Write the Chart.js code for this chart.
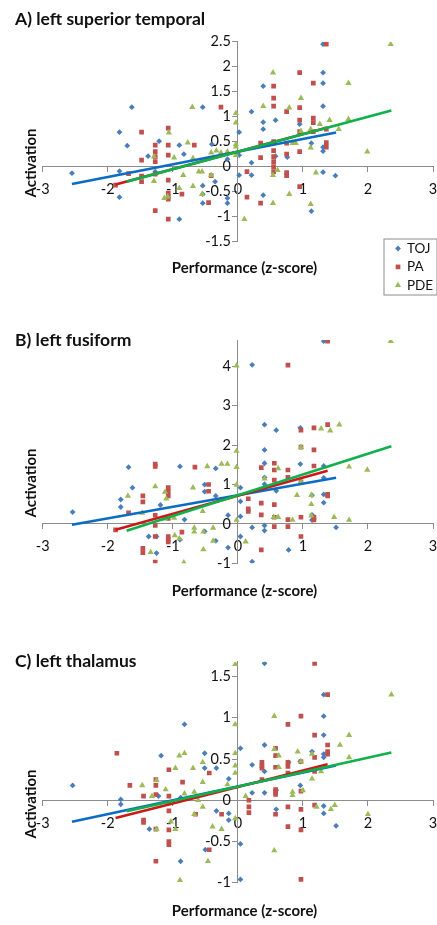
<!DOCTYPE html>
<html>
<head>
<meta charset="utf-8">
<script src="https://cdn.jsdelivr.net/npm/chart.js@4.4.1/dist/chart.umd.min.js"></script>
<style>
html,body{margin:0;padding:0;background:#fff;width:437px;height:925px;overflow:hidden;}
canvas{position:absolute;left:0;}
</style>
</head>
<body>
<canvas id="cA" width="437" height="305" style="top:0px"></canvas>
<canvas id="cB" width="437" height="305" style="top:305px"></canvas>
<canvas id="cC" width="437" height="315" style="top:610px"></canvas>
<script>
// ---------- text ----------
const seriesNames = ['TOJ', 'PA', 'PDE'];
const panelTitles = ['A) left superior temporal', 'B) left fusiform', 'C) left thalamus'];
const xAxisTitle = 'Performance (z-score)';
const yAxisTitle = 'Activation';

// ---------- axes ----------
const xMin = -3, xMax = 3, xStep = 1;
const yMins = [-1.5, -1, -1];
const yMaxs = [2.5, 4.67, 1.68];
const ySteps = [0.5, 1, 0.5];

// ---------- Panel A: left superior temporal ----------
const aTojX = [-2.55,-1.82,-1.82,-1.82,-1.70,-1.63,-1.38,-1.27,-1.21,-0.90,-0.83,-0.90,-0.54,-0.54,-0.54,-0.54,-0.40,-0.35,-0.16,-0.16,-0.16,0.02,0.02,0.02,0.21,0.21,0.21,0.39,0.39,0.39,0.39,0.58,0.58,0.76,0.95,1.13,1.13,1.31,1.31,1.31,1.31,1.31,1.31,1.31,1.50];
const aTojY = [-0.13,0.69,-0.09,-0.61,0.42,1.19,0.21,-0.10,0.51,0.43,0.25,-1.05,1.19,-0.38,-0.55,-0.73,0.45,-0.30,0.15,-0.63,-0.73,0.69,0.23,-0.17,1.10,0.08,-0.17,1.61,0.89,0.75,-0.57,0.93,0.21,0.19,0.85,0.47,-0.89,2.45,1.88,1.67,1.21,0.39,0.31,-0.11,-0.18];
const aPaX = [-1.88,-1.68,-1.48,-1.48,-1.48,-1.48,-1.27,-1.27,-1.27,-1.27,-1.27,-1.27,-1.07,-1.07,-1.07,-1.07,-1.07,-1.07,-1.07,-1.07,-0.86,-0.67,-0.45,-0.41,-0.26,0.14,0.14,0.35,0.35,0.35,0.55,0.55,0.55,0.55,0.55,0.55,0.55,0.55,0.55,0.75,0.75,0.75,0.75,0.75,0.95,0.95,0.95,0.95,0.95,0.95,1.16,1.16,1.16,1.16,1.36,1.36,1.36,1.36];
const aPaY = [-0.37,-0.14,0.69,0.13,-0.19,-0.30,0.43,0.30,0.20,0.10,-0.15,-0.88,0.77,0.43,0.23,-0.27,-0.53,-0.60,-0.65,-1.05,-0.55,0.43,-0.72,-0.18,1.19,-0.10,-0.61,0.47,0.18,-0.73,1.61,1.37,1.21,0.50,0.32,0.20,0.10,0.00,-0.10,1.10,0.47,0.25,-0.12,-0.18,1.88,1.18,0.93,0.70,0.30,-0.40,1.67,0.97,0.88,0.70,2.45,0.75,0.48,0.39];
const aPdeX = [-1.29,-1.29,-1.13,-1.08,-1.06,-0.98,-0.90,-0.84,-0.77,-0.70,-0.69,-0.69,-0.60,-0.55,-0.55,-0.41,-0.41,-0.33,-0.26,-0.16,-0.03,-0.03,-0.03,-0.03,-0.03,0.10,0.39,0.54,0.54,0.54,0.61,0.79,0.79,0.84,0.89,0.97,0.97,1.12,1.12,1.12,1.20,1.26,1.41,1.55,1.70,1.70,1.99,2.35];
const aPdeY = [0.20,-0.29,-0.63,-0.60,0.68,0.18,-0.43,-0.17,0.48,1.19,0.17,-0.39,-0.10,-0.10,-0.55,0.28,-0.17,0.32,0.28,0.30,1.07,0.88,0.45,0.40,0.23,-1.05,1.21,1.88,-0.17,-0.73,-0.07,1.18,-0.55,0.47,0.47,1.37,0.71,0.75,0.38,-0.75,-0.12,0.85,0.93,0.75,1.67,0.95,0.30,2.45];
const aTrendSlope = [0.254, 0.35, 0.35];
const aTrendIntercept = [0.30, 0.30, 0.30];

// ---------- Panel B: left fusiform ----------
const bTojX = [-2.54,-1.80,-1.80,-1.68,-1.62,-1.37,-1.25,-1.25,-1.19,-0.89,-0.89,-0.82,-0.51,-0.51,-0.51,-0.34,-0.34,-0.34,-0.15,-0.15,0.04,0.04,0.04,0.04,0.22,0.22,0.22,0.41,0.41,0.41,0.41,0.41,0.41,0.41,0.59,0.59,0.78,0.96,0.96,1.14,1.14,1.14,1.32,1.32,1.32,1.32,1.32,1.51];
const bTojY = [0.30,0.62,0.43,1.44,0.92,-0.32,-0.32,-0.74,0.48,1.46,-0.40,0.11,1.00,0.82,-0.19,1.41,0.71,-0.43,0.22,-0.60,0.92,0.57,0.19,-0.32,4.04,-0.09,-0.96,2.52,1.88,1.54,1.18,1.01,-0.04,-0.17,2.38,0.84,-0.66,2.44,1.52,0.73,0.23,0.10,4.64,1.47,1.17,0.75,0.54,-0.09];
const bPaX = [-1.88,-1.68,-1.46,-1.46,-1.46,-1.46,-1.27,-1.27,-1.27,-1.27,-1.27,-1.27,-1.07,-1.07,-1.07,-1.07,-1.07,-1.07,-1.07,-0.86,-0.66,-0.45,-0.45,0.16,0.16,0.16,0.36,0.36,0.36,0.36,0.56,0.56,0.56,0.56,0.56,0.56,0.77,0.77,0.77,0.77,0.77,0.97,0.97,0.97,0.97,0.97,1.17,1.17,1.17,1.17,1.17,1.38,1.38,1.38,1.38];
const bPaY = [-0.15,0.28,0.71,0.56,-0.62,-0.73,1.52,1.46,0.22,-0.04,-0.32,-0.97,0.92,0.82,0.71,0.14,-0.32,-0.40,-0.46,-0.21,1.44,1.00,0.83,0.64,0.38,0.32,1.43,0.53,0.23,-0.66,1.54,1.37,1.11,0.49,0.17,-0.07,4.03,1.37,1.18,0.11,-0.07,2.38,1.95,1.07,0.17,-0.32,2.44,1.88,1.47,0.17,0.10,4.64,2.52,0.75,0.71];
const bPdeX = [-1.69,-1.47,-1.34,-1.27,-1.12,-1.10,-1.12,-0.98,-0.97,-0.90,-0.83,-0.69,-0.67,-0.67,-0.54,-0.53,-0.53,-0.47,-0.38,-0.38,-0.25,-0.16,-0.02,-0.02,-0.02,-0.02,-0.02,0.12,0.41,0.55,0.62,0.62,0.84,0.91,0.97,0.97,1.13,1.13,1.13,1.28,1.42,1.48,1.56,1.71,1.71,1.99,2.35];
const bPdeY = [0.71,0.28,-0.72,0.95,0.81,0.64,0.13,0.15,-0.29,-0.37,-0.98,0.92,-0.10,-0.20,0.32,-0.20,-0.65,1.46,-0.10,-0.43,1.52,1.52,4.02,1.85,1.44,0.99,0.10,-0.45,1.15,0.17,1.41,0.17,0.10,0.73,1.95,1.07,0.73,0.50,0.21,2.42,2.37,0.17,2.52,1.45,0.10,1.37,4.64];
const bTrendSlope = [0.294, 0.46, 0.527];
const bTrendIntercept = [0.727, 0.715, 0.73];

// ---------- Panel C: left thalamus ----------
const cTojX = [-2.54,-1.80,-1.80,-1.36,-1.22,-1.18,-0.88,-0.88,-0.82,-0.51,-0.51,-0.50,-0.33,-0.33,-0.14,-0.14,-0.14,0.04,0.04,0.04,0.22,0.22,0.41,0.41,0.41,0.41,0.59,0.59,0.78,0.96,0.96,1.14,1.32,1.32,1.32,1.32,1.32,1.32,1.32,1.51];
const cTojY = [0.18,0.01,-0.05,-0.35,0.05,0.54,-0.74,0.03,0.92,0.57,0.39,-0.60,0.39,-0.13,0.26,-0.16,-0.24,0.63,-0.53,-0.96,0.43,0.09,1.66,0.67,0.35,0.09,0.12,-0.11,0.46,0.18,0.47,0.59,1.28,1.02,0.79,0.56,0.52,-0.07,-0.16,-0.31];
const cPaX = [-1.86,-1.66,-1.45,-1.45,-1.45,-1.26,-1.26,-1.26,-1.26,-1.26,-1.06,-1.06,-1.06,-1.06,-1.06,-1.06,-1.06,-0.85,-0.65,-0.44,-0.44,-0.25,0.17,0.17,0.17,0.37,0.37,0.37,0.37,0.58,0.58,0.58,0.58,0.58,0.58,0.58,0.77,0.77,0.77,0.77,0.77,0.77,0.97,0.97,0.97,0.97,0.97,0.97,1.18,1.18,1.18,1.18,1.18,1.38,1.38,1.38,1.38];
const cPaY = [0.57,0.18,0.05,-0.24,-0.27,0.25,0.18,0.07,-0.35,-0.74,0.37,0.05,-0.03,-0.13,-0.36,-0.50,-0.54,0.22,-0.17,0.33,-0.60,-0.17,0.00,-0.08,-0.15,0.46,0.42,0.39,0.25,0.63,0.54,0.40,0.13,0.10,0.07,-0.17,0.92,0.46,0.41,0.33,-0.08,-0.32,1.02,0.47,0.11,-0.11,-0.36,-0.96,1.66,0.79,0.52,0.35,-0.06,1.28,0.67,0.59,0.56];
const cPdeX = [-1.47,-1.32,-1.25,-1.25,-1.11,-1.03,-0.96,-0.96,-0.90,-0.89,-0.82,-0.82,-0.69,-0.67,-0.67,-0.61,-0.54,-0.54,-0.54,-0.46,-0.39,-0.25,-0.16,-0.04,-0.04,-0.04,-0.04,-0.04,-0.04,0.12,0.56,0.56,0.56,0.63,0.63,0.84,0.84,0.92,0.97,1.00,1.14,1.14,1.21,1.28,1.43,1.49,1.57,1.71,1.71,2.00,2.36];
const cPdeY = [0.18,0.05,0.24,-0.35,0.13,-0.26,0.39,-0.35,0.54,-0.97,0.57,0.08,0.39,0.10,-0.17,0.00,0.46,0.22,-0.08,-0.74,-0.32,-0.35,0.19,1.65,0.92,0.57,0.42,0.33,-0.22,0.05,1.02,0.62,-0.61,0.54,0.40,0.10,0.06,0.59,0.47,0.12,0.56,0.26,-0.08,0.35,-0.11,-0.06,0.67,0.79,0.52,-0.17,1.28];
const cTrendSlope = [0.168, 0.20, 0.175];
const cTrendIntercept = [0.167, 0.16, 0.166];

// trend line x extent per series (TOJ, PA, PDE), same in all panels
const trendFrom = [-2.55, -1.88, -1.71];
const trendTo = [1.51, 1.38, 2.36];

// ---------- styles ----------
const markerColors = ['#4A7EBB', '#C0504D', '#9BBB59'];
const markerStyles = ['rectRot', 'rect', 'triangle'];
const markerRadius = [2.9, 3.3, 3.6];
const lineColors = ['#0A6CC4', '#CC1818', '#10B04A'];
const axisColor = '#8C8C8C';
const textColor = '#111111';
const FONT = 'Lato, "Open Sans", sans-serif';

function fmt(v) { return String(Number(Number(v).toFixed(2))); }

// ---------- plugins ----------
const panelText = {
  id: 'panelText',
  beforeDatasetsDraw(chart, args, o) {
    // y tick labels, right-aligned just left of the y axis (which crosses at x = 0)
    const ctx = chart.ctx, xs = chart.scales.x, ys = chart.scales.y;
    const ax = xs.getPixelForValue(0);
    ctx.save();
    ctx.fillStyle = textColor;
    ctx.font = '14.5px ' + FONT;
    ctx.textAlign = 'right';
    ctx.textBaseline = 'middle';
    ys.ticks.forEach(t => {
      ctx.fillText(fmt(t.value), ax - o.yLabelGap, ys.getPixelForValue(t.value));
    });
    ctx.restore();
  },
  afterDraw(chart, args, o) {
    const ctx = chart.ctx;
    ctx.save();
    ctx.fillStyle = textColor;
    ctx.font = 'bold 17.5px ' + FONT;
    ctx.textAlign = 'left';
    ctx.textBaseline = 'alphabetic';
    ctx.fillText(o.heading, o.headX, o.headY);
    ctx.font = 'bold 15px ' + FONT;
    ctx.textAlign = 'center';
    ctx.textBaseline = 'middle';
    ctx.fillText(o.xTitle, o.xTitleX, o.xTitleY);
    ctx.translate(o.yTitleX, o.yTitleY);
    ctx.rotate(-Math.PI / 2);
    ctx.fillText(o.yTitle, 0, 0);
    ctx.restore();
  }
};

const boxLegend = {
  id: 'boxLegend',
  afterDraw(chart, args, o) {
    if (!o || !o.show) return;
    const ctx = chart.ctx;
    ctx.save();
    ctx.fillStyle = '#ffffff';
    ctx.fillRect(o.x, o.y, o.w, o.h);
    ctx.strokeStyle = '#8C8C8C';
    ctx.lineWidth = 1;
    ctx.strokeRect(o.x + 0.5, o.y + 0.5, o.w, o.h);
    const items = chart.data.datasets.filter(d => d.isSeries);
    items.sort((a, b) => a.seriesIndex - b.seriesIndex);
    items.forEach((d, i) => {
      const y = o.y + o.firstRow + i * o.rowGap;
      ctx.fillStyle = d.backgroundColor;
      ctx.strokeStyle = d.borderColor;
      Chart.helpers.drawPoint(ctx, {pointStyle: d.pointStyle, radius: d.pointRadius, borderWidth: 0, rotation: 0}, o.markX, y);
      ctx.fillStyle = textColor;
      ctx.font = '13.5px ' + FONT;
      ctx.textAlign = 'left';
      ctx.textBaseline = 'middle';
      ctx.fillText(d.label, o.textX, y);
    });
    ctx.restore();
  }
};

// ---------- builder ----------
function pts(xs, ys) { return xs.map((v, i) => ({x: v, y: ys[i]})); }

function buildPanel(canvasId, idx, series, slopes, intercepts, pad, text, legend) {
  const datasets = [];
  series.forEach((s, i) => {
    datasets.push({
      label: seriesNames[i],
      isSeries: true,
      seriesIndex: i,
      data: pts(s[0], s[1]),
      pointStyle: markerStyles[i],
      pointRadius: markerRadius[i],
      backgroundColor: markerColors[i],
      borderColor: markerColors[i],
      borderWidth: 0,
      showLine: false,
      order: 5 - i
    });
  });
  series.forEach((s, i) => {
    datasets.push({
      label: seriesNames[i] + ' trend',
      data: [trendFrom[i], trendTo[i]].map(x => ({x: x, y: intercepts[i] + slopes[i] * x})),
      showLine: true,
      pointRadius: 0,
      borderColor: lineColors[i],
      backgroundColor: lineColors[i],
      borderWidth: 2.6,
      order: 2 - i
    });
  });
  return new Chart(document.getElementById(canvasId), {
    type: 'scatter',
    data: {datasets},
    options: {
      responsive: false,
      animation: false,
      events: [],
      layout: {padding: pad},
      scales: {
        x: {
          type: 'linear', min: xMin, max: xMax, position: {y: 0},
          ticks: {stepSize: xStep, color: textColor, font: {family: FONT, size: 14.5}, padding: 9, maxRotation: 0, autoSkip: false, callback: v => fmt(v)},
          grid: {display: true, drawOnChartArea: false, drawTicks: true, tickLength: 5, color: axisColor, tickColor: axisColor},
          border: {display: true, color: axisColor, width: 1},
          afterFit(s) { s.paddingLeft = 0; s.paddingRight = 0; }
        },
        y: {
          type: 'linear', min: yMins[idx], max: yMaxs[idx], position: {x: 0},
          ticks: {stepSize: ySteps[idx], includeBounds: false, display: false, autoSkip: false},
          grid: {display: true, drawOnChartArea: false, drawTicks: true, tickLength: 5, color: axisColor, tickColor: axisColor},
          border: {display: true, color: axisColor, width: 1},
          afterFit(s) { s.paddingTop = 0; s.paddingBottom = 0; }
        }
      },
      plugins: {
        legend: {display: false},
        tooltip: {enabled: false},
        panelText: text,
        boxLegend: legend
      }
    },
    plugins: [panelText, boxLegend]
  });
}

buildPanel('cA', 0,
  [[aTojX, aTojY], [aPaX, aPaY], [aPdeX, aPdeY]], aTrendSlope, aTrendIntercept,
  {left: 42.7, right: 2, top: 41.7, bottom: 63.3},
  {heading: panelTitles[0], headX: 15, headY: 25, xTitle: xAxisTitle, xTitleX: 244.5, xTitleY: 268, yTitle: yAxisTitle, yTitleX: 31, yTitleY: 163, yLabelGap: 7},
  {show: true, x: 383.5, y: 238.5, w: 53, h: 56, firstRow: 10, rowGap: 18.4, markX: 398, textX: 407});

buildPanel('cB', 1,
  [[bTojX, bTojY], [bPaX, bPaY], [bPdeX, bPdeY]], bTrendSlope, bTrendIntercept,
  {left: 42.7, right: 2, top: 35, bottom: 46.7},
  {heading: panelTitles[1], headX: 15, headY: 41, xTitle: xAxisTitle, xTitleX: 244.5, xTitleY: 286.5, yTitle: yAxisTitle, yTitleX: 31, yTitleY: 178, yLabelGap: 7},
  {show: false});

buildPanel('cC', 2,
  [[cTojX, cTojY], [cPaX, cPaY], [cPdeX, cPdeY]], cTrendSlope, cTrendIntercept,
  {left: 42.7, right: 2, top: 51.7, bottom: 42.3},
  {heading: panelTitles[2], headX: 15, headY: 56.5, xTitle: xAxisTitle, xTitleX: 244.5, xTitleY: 301.5, yTitle: yAxisTitle, yTitleX: 31, yTitleY: 194, yLabelGap: 7},
  {show: false});
</script>
</body>
</html>
